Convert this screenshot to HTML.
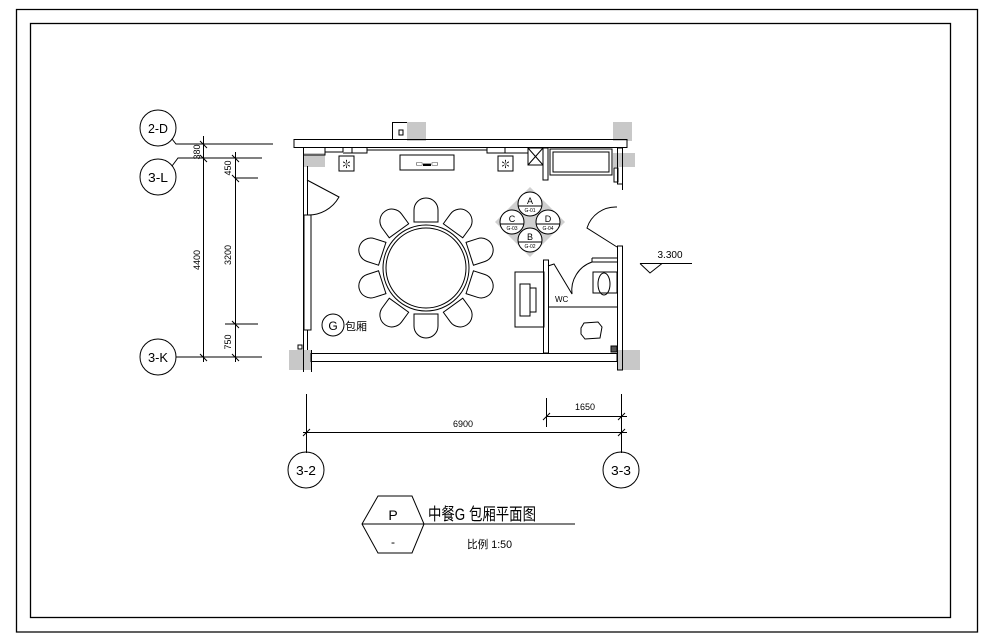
<!DOCTYPE html>
<html><head><meta charset="utf-8"><style>html,body{margin:0;padding:0;background:#fff}svg{display:block}</style></head>
<body>
<svg width="989" height="641" viewBox="0 0 989 641" xmlns="http://www.w3.org/2000/svg" font-family="Liberation Sans, 'Noto Sans CJK SC', sans-serif">
<g fill="none" stroke="#000" stroke-width="1.3">
<polyline points="16.5,60 16.5,9.5 977.5,9.5 977.5,632 16.5,632 16.5,60"/>
<rect x="30.5" y="23.5" width="920" height="594"/>
</g>
<g fill="#c8c8c8">
<rect x="407" y="122" width="19" height="19"/>
<rect x="613" y="122" width="19" height="19"/>
<rect x="303" y="153" width="22" height="14"/>
<rect x="613" y="153" width="22" height="14"/>
<rect x="289" y="350" width="22" height="20"/>
<rect x="617" y="350" width="23" height="20"/>
</g>
<g fill="none" stroke="#000" stroke-width="1">
<rect x="294" y="139.5" width="333" height="8"/>
<polyline points="392.5,139.5 392.5,122.5 407,122.5"/>
<rect x="399" y="130" width="4" height="5"/>
<polyline points="303.5,148 303.5,155 325,155 325,148"/>
<line x1="325" y1="152" x2="343" y2="152"/><line x1="343" y1="148" x2="343" y2="152"/>
<polyline points="343,153 352,153 352,148"/>
<polyline points="352,153 367,153 367,148"/>
<line x1="367" y1="150" x2="487" y2="150"/>
<polyline points="487,148 487,153 505,153 505,148"/>
<polyline points="505,153 528,153 528,148"/>
<rect x="528" y="148" width="15" height="17"/>
<line x1="528" y1="148" x2="543" y2="165"/><line x1="543" y1="148" x2="528" y2="165"/>
<rect x="543" y="148" width="5" height="32"/>
<rect x="550" y="149" width="62" height="26"/>
<rect x="553" y="152" width="56" height="20"/>
<rect x="339" y="156" width="15" height="15"/>
<rect x="498" y="156" width="15" height="15"/>
<rect x="400" y="155" width="54" height="15"/>
<line x1="303.5" y1="148" x2="303.5" y2="360"/>
<line x1="307.5" y1="166" x2="307.5" y2="215"/>
<rect x="304" y="215" width="7" height="115"/>
<line x1="307.5" y1="330" x2="307.5" y2="350"/>
<line x1="311.5" y1="350" x2="311.5" y2="372"/>
<line x1="303.5" y1="350" x2="303.5" y2="372"/>
<rect x="298" y="345" width="4" height="4"/>
<path d="M307,180 L339,197 A35,35 0 0 1 307,215"/>
<rect x="311" y="353.5" width="306" height="8"/>
<rect x="617.5" y="148" width="5" height="36"/>
<line x1="622.5" y1="184" x2="622.5" y2="190"/>
<rect x="617.5" y="246" width="5" height="124"/>
<rect x="614" y="168" width="4" height="14"/>
<path d="M617,247 L587,228 A30,30 0 0 1 617,207"/>
<rect x="543.5" y="260" width="5" height="93"/>
<rect x="515" y="272" width="29" height="55"/>
<rect x="520" y="284" width="10" height="32"/>
<rect x="530" y="288" width="6" height="24"/>
<path d="M548,266 L554,264 L572,294 A30,30 0 0 1 592,262 L617,262"/>
<line x1="592" y1="258" x2="617" y2="258"/>
<line x1="592" y1="258" x2="592" y2="262"/>
<rect x="593" y="272" width="24" height="21"/>
<ellipse cx="604" cy="284" rx="6" ry="11"/>
<line x1="548" y1="307" x2="617" y2="307"/>
<path d="M581,328 L584,323 L598,322 L602,327 L600,338 L585,339 L581,334 Z"/>
<rect x="611" y="346" width="6" height="6" fill="#555"/>
<circle cx="426" cy="268" r="40"/>
<circle cx="426" cy="268" r="43"/>
</g>
<g fill="#000" font-size="11" text-anchor="middle"><text x="346.5" y="168">✽</text><text x="505.5" y="168">✽</text><text x="427" y="166" font-size="8">▭▬▭</text></g>
<g fill="none" stroke="#000" stroke-width="1">
<g transform="translate(426,268)">
<g transform="rotate(0)"><path d="M-12,-46 L-12,-58 A12,12 0 0 1 12,-58 L12,-46 Z"/></g>
<g transform="rotate(36)"><path d="M-12,-46 L-12,-58 A12,12 0 0 1 12,-58 L12,-46 Z"/></g>
<g transform="rotate(72)"><path d="M-12,-46 L-12,-58 A12,12 0 0 1 12,-58 L12,-46 Z"/></g>
<g transform="rotate(108)"><path d="M-12,-46 L-12,-58 A12,12 0 0 1 12,-58 L12,-46 Z"/></g>
<g transform="rotate(144)"><path d="M-12,-46 L-12,-58 A12,12 0 0 1 12,-58 L12,-46 Z"/></g>
<g transform="rotate(180)"><path d="M-12,-46 L-12,-58 A12,12 0 0 1 12,-58 L12,-46 Z"/></g>
<g transform="rotate(216)"><path d="M-12,-46 L-12,-58 A12,12 0 0 1 12,-58 L12,-46 Z"/></g>
<g transform="rotate(252)"><path d="M-12,-46 L-12,-58 A12,12 0 0 1 12,-58 L12,-46 Z"/></g>
<g transform="rotate(288)"><path d="M-12,-46 L-12,-58 A12,12 0 0 1 12,-58 L12,-46 Z"/></g>
<g transform="rotate(324)"><path d="M-12,-46 L-12,-58 A12,12 0 0 1 12,-58 L12,-46 Z"/></g>
</g>
</g>
<polygon points="530,187 565,222 530,257 495,222" fill="#d0d0d0"/>
<g fill="#fff" stroke="#000" stroke-width="1">
<circle cx="530" cy="204" r="12"/><circle cx="530" cy="240" r="12"/>
<circle cx="512" cy="222" r="12"/><circle cx="548" cy="222" r="12"/>
</g>
<g stroke="#000" stroke-width="1">
<line x1="518" y1="206" x2="542" y2="206"/><line x1="518" y1="242" x2="542" y2="242"/>
<line x1="500" y1="224" x2="524" y2="224"/><line x1="536" y1="224" x2="560" y2="224"/>
</g>
<g font-size="9" text-anchor="middle" fill="#000">
<text x="530" y="204">A</text><text x="530" y="240">B</text><text x="512" y="222">C</text><text x="548" y="222">D</text>
</g>
<g font-size="5" text-anchor="middle" fill="#000">
<text x="530" y="212">G-01</text><text x="530" y="248">G-02</text><text x="512" y="230">G-03</text><text x="548" y="230">G-04</text>
</g>
<circle cx="333" cy="325" r="11" fill="none" stroke="#000"/>
<text x="333" y="330" font-size="12" text-anchor="middle">G</text>
<text x="345" y="330" font-size="11">包厢</text>
<text x="555" y="302" font-size="8">WC</text>
<g fill="none" stroke="#000" stroke-width="1">
<circle cx="158" cy="128" r="18"/><circle cx="158" cy="177" r="18"/><circle cx="158" cy="357" r="18"/>
<polyline points="172,139 176,144 273,144"/>
<polyline points="172,166 178,158 262,158"/>
<line x1="176" y1="357" x2="262" y2="357"/>
<line x1="203.5" y1="136" x2="203.5" y2="362"/>
<line x1="235.5" y1="152" x2="235.5" y2="362"/>
<line x1="235" y1="178" x2="258" y2="178"/>
<line x1="225" y1="324" x2="258" y2="324"/>
<path d="M200,141 l7,7 M200,155 l7,7 M200,354 l7,7 M232,155 l7,7 M232,175 l7,7 M232,321 l7,7 M232,354 l7,7"/>
<line x1="306.5" y1="394" x2="306.5" y2="453"/>
<line x1="621.5" y1="394" x2="621.5" y2="453"/>
<line x1="303" y1="432.5" x2="627" y2="432.5"/>
<line x1="546" y1="416.5" x2="627" y2="416.5"/>
<line x1="546.5" y1="398" x2="546.5" y2="427"/>
<path d="M303,436 l7,-7 M618,436 l7,-7 M543,420 l7,-7 M618,420 l7,-7"/>
<circle cx="306" cy="470" r="18"/><circle cx="621" cy="470" r="18"/>
<line x1="640" y1="263.5" x2="692" y2="263.5"/>
<polyline points="640,263.5 650,273 662,263.5"/>
<polygon points="362,524 378,496 412,496 424,524 412,553 378,553"/>
<line x1="362" y1="524" x2="575" y2="524"/>
</g>
<g fill="#000">
<text x="158" y="133" font-size="13" text-anchor="middle" textLength="20" lengthAdjust="spacingAndGlyphs">2-D</text>
<text x="158" y="182" font-size="13" text-anchor="middle" textLength="20" lengthAdjust="spacingAndGlyphs">3-L</text>
<text x="158" y="362" font-size="13" text-anchor="middle" textLength="20" lengthAdjust="spacingAndGlyphs">3-K</text>
<text x="306" y="475" font-size="13" text-anchor="middle" textLength="20" lengthAdjust="spacingAndGlyphs">3-2</text>
<text x="621" y="475" font-size="13" text-anchor="middle" textLength="20" lengthAdjust="spacingAndGlyphs">3-3</text>
<text transform="translate(200,152) rotate(-90)" font-size="9" text-anchor="middle">380</text>
<text transform="translate(200,260) rotate(-90)" font-size="9" text-anchor="middle">4400</text>
<text transform="translate(231,168) rotate(-90)" font-size="9" text-anchor="middle">450</text>
<text transform="translate(231,255) rotate(-90)" font-size="9" text-anchor="middle">3200</text>
<text transform="translate(231,342) rotate(-90)" font-size="9" text-anchor="middle">750</text>
<text x="463" y="427" font-size="9" text-anchor="middle">6900</text>
<text x="585" y="410" font-size="9" text-anchor="middle">1650</text>
<text x="670" y="258" font-size="10" text-anchor="middle">3.300</text>
<text x="393" y="520" font-size="14" text-anchor="middle">P</text>
<text x="393" y="546" font-size="12" text-anchor="middle">-</text>
<text x="428" y="520" font-size="17" textLength="108" lengthAdjust="spacingAndGlyphs">中餐G 包厢平面图</text>
<text x="467" y="548" font-size="11" textLength="45" lengthAdjust="spacingAndGlyphs">比例 1:50</text>
</g>
</svg>
</body></html>
